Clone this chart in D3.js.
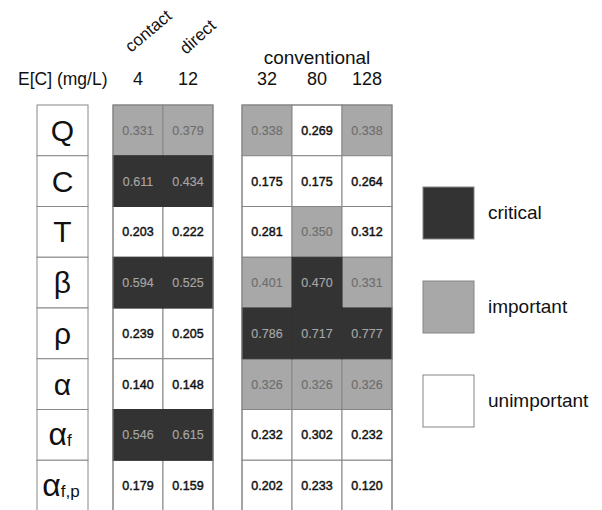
<!DOCTYPE html>
<html><head><meta charset="utf-8">
<script src="https://cdn.jsdelivr.net/npm/d3@7"></script>
<style>body{margin:0;background:#fff}svg{display:block}text{font-family:"Liberation Sans",Arial,Helvetica,sans-serif}</style>
</head><body>
<script>
const params = ["Q","C","T","β","ρ","α","αf","αf,p"];
const groupA = ["4","12"];
const groupB = ["32","80","128"];
const concentrations = ["4","12","32","80","128"];
const values = [
  [0.331,0.379,0.338,0.269,0.338],
  [0.611,0.434,0.175,0.175,0.264],
  [0.203,0.222,0.281,0.350,0.312],
  [0.594,0.525,0.401,0.470,0.331],
  [0.239,0.205,0.786,0.717,0.777],
  [0.140,0.148,0.326,0.326,0.326],
  [0.546,0.615,0.232,0.302,0.232],
  [0.179,0.159,0.202,0.233,0.120]
];
// C = critical, I = important, U = unimportant
const classes = [
  ["I","I","I","U","I"],
  ["C","C","U","U","U"],
  ["U","U","U","I","U"],
  ["C","C","I","C","I"],
  ["U","U","C","C","C"],
  ["U","U","I","I","I"],
  ["C","C","U","U","U"],
  ["U","U","U","U","U"]
];
const legendKeys = ["C","I","U"];
const legendLabels = ["critical","important","unimportant"];

const W=602,H=510;
const svg=d3.select("body").append("svg").attr("width",W).attr("height",H);
const fill=d3.scaleOrdinal().domain(["C","I","U"]).range(["#333333","#a8a8a8","#ffffff"]);
const tcol=d3.scaleOrdinal().domain(["C","I","U"]).range(["#a6a6a6","#6e6e6e","#111111"]);
const y=d3.scaleBand().domain(params).range([105,511]);
const xA=d3.scaleBand().domain(groupA).range([113,213]);
const xB=d3.scaleBand().domain(groupB).range([242,392]);
const xOf=c=>groupA.includes(c)?xA(c):xB(c);
const bw=xA.bandwidth();

// row label column
const lab=svg.append("g");
params.forEach(p=>{
  lab.append("rect").attr("x",37).attr("y",y(p)).attr("width",51).attr("height",y.bandwidth())
    .attr("fill","#fff").attr("stroke","#888").attr("stroke-width",1);
  const t=lab.append("text").attr("x",62.5).attr("y",y(p)+y.bandwidth()/2+10.5)
    .attr("text-anchor","middle").attr("font-size",30).attr("fill","#111");
  if(p.startsWith("α")&&p.length>1){
    t.attr("x",p.length>2?61:60);
    t.append("tspan").attr("font-size",32).text("α");
    t.append("tspan").attr("font-size",17).attr("dy",1).text(p.slice(1));
  } else t.text(p);
});

// cells
const cells=[];
params.forEach((p,i)=>concentrations.forEach((c,j)=>cells.push({p,c,v:values[i][j],k:classes[i][j]})));
const g=svg.append("g");
const order=cells.slice().sort((a,b)=>(a.k==="C")-(b.k==="C"));
g.selectAll("rect").data(order).join("rect")
  .attr("x",d=>xOf(d.c)).attr("y",d=>y(d.p)).attr("width",bw).attr("height",y.bandwidth())
  .attr("fill",d=>fill(d.k)).attr("stroke",d=>d.k==="C"?"#333333":"#858585").attr("stroke-width",1);
[[113,213],[242,392]].forEach(r=>{
  svg.append("rect").attr("x",r[0]).attr("y",105).attr("width",r[1]-r[0]).attr("height",406)
   .attr("fill","none").attr("stroke","#858585").attr("stroke-width",1);
});
g.selectAll("text").data(cells).join("text")
  .attr("x",d=>xOf(d.c)+bw/2).attr("y",d=>y(d.p)+y.bandwidth()/2+4.5)
  .attr("text-anchor","middle").attr("font-size",12.5)
  .attr("fill",d=>tcol(d.k)).attr("stroke",d=>tcol(d.k)).attr("stroke-width",d=>d.k==="U"?0.45:0.15)
  .text(d=>d.v.toFixed(3));

// headers
svg.append("text").attr("x",18).attr("y",85).attr("font-size",17.5).attr("fill","#111").text("E[C] (mg/L)");
svg.selectAll("text.conc").data(concentrations).join("text").attr("class","conc")
  .attr("x",d=>xOf(d)+bw/2).attr("y",85).attr("text-anchor","middle").attr("font-size",18).attr("fill","#111").text(d=>d);
svg.append("text").attr("x",317).attr("y",64).attr("text-anchor","middle").attr("font-size",19).attr("fill","#111").text("conventional");
svg.append("text").attr("transform","translate(131,53) rotate(-40)").attr("font-size",17).attr("fill","#111").text("contact");
svg.append("text").attr("transform","translate(186,55) rotate(-42)").attr("font-size",17).attr("fill","#111").text("direct");

// legend
const lg=svg.append("g");
legendKeys.forEach((k,i)=>{
  lg.append("rect").attr("x",423).attr("y",187+i*94).attr("width",51).attr("height",52)
    .attr("fill",fill(k)).attr("stroke","#858585");
  lg.append("text").attr("x",488).attr("y",187+i*94+32).attr("font-size",19).attr("fill","#111").text(legendLabels[i]);
});
</script>
</body></html>
